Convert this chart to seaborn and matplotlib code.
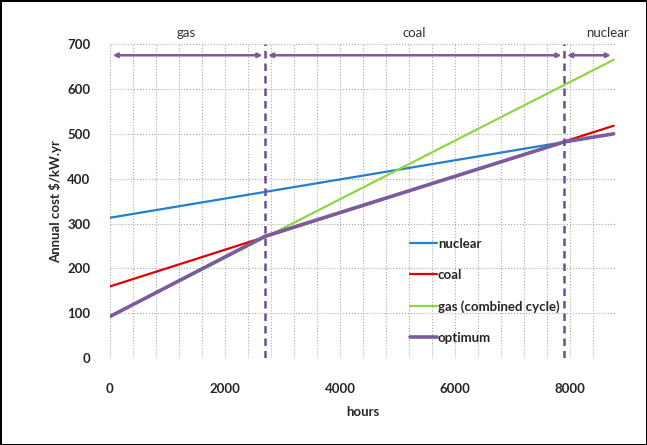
import numpy as np
import pandas as pd
import matplotlib.pyplot as plt
import seaborn as sns
from matplotlib.ticker import MultipleLocator

# cost lines (end points, $/kW.yr)
hours = [0, 8760]
nuclear = [313, 500]
coal = [160, 518]
gas = [93, 665]

# optimum envelope follows the cheapest plant
opt_hours = [0, 2700, 7900, 8760]
optimum = [93, 272, 482, 500]

# switching points and region labels
switch = [2700, 7900]
regions = ['gas', 'coal', 'nuclear']
region_x = [1320, 5300, 8650]

sns.set_style('white')
plt.rcParams['font.family'] = ['Lato', 'DejaVu Sans']

fig = plt.figure(figsize=(6.47, 4.45), dpi=100)
fig.patch.set_edgecolor('black')
fig.patch.set_linewidth(2)
ax = fig.add_axes([0.170, 0.195, 0.782, 0.706])

sns.lineplot(x=hours, y=nuclear, color='#1f7fd0', lw=1.6, label='nuclear', ax=ax)
sns.lineplot(x=hours, y=coal, color='#e00000', lw=1.6, label='coal', ax=ax)
sns.lineplot(x=hours, y=gas, color='#8fd642', lw=1.6, label='gas (combined cycle)', ax=ax)
sns.lineplot(x=opt_hours, y=optimum, color='#7a5c9c', lw=2.6, label='optimum', ax=ax)

for s in switch:
    ax.axvline(s, color='#6a4f8f', lw=1.8, ls=(0, (3, 2)))

# arrows across each region
edges = [0] + switch + [hours[-1]]
for i, name in enumerate(regions):
    ax.annotate('', xy=(edges[i], 675), xytext=(edges[i + 1], 675),
                arrowprops=dict(arrowstyle='<|-|>', color='#7a5c9c', lw=1.8,
                                mutation_scale=6, shrinkA=2, shrinkB=2))
    ax.text(region_x[i], 712, name, ha='center', va='bottom', fontsize=9.5,
            color='#333333', clip_on=False)

ax.set_xlim(0, 8800)
ax.set_ylim(0, 700)
ax.xaxis.set_major_locator(MultipleLocator(2000))
ax.xaxis.set_minor_locator(MultipleLocator(400))
ax.yaxis.set_major_locator(MultipleLocator(100))
ax.grid(True, which='both', axis='x', color='#aaaaaa', ls=':', lw=0.8)
ax.grid(True, which='major', axis='y', color='#aaaaaa', ls=':', lw=0.8)
for sp in ax.spines.values():
    sp.set_visible(False)
ax.tick_params(axis='both', which='both', length=0, labelsize=9.5, pad=14)
ax.tick_params(axis='x', pad=18)
ax.set_xticks(ax.get_xticks())
ax.set_yticks(ax.get_yticks())
ax.set_xticklabels([f'{int(v)}' for v in ax.get_xticks()], fontweight='bold')
ax.set_yticklabels([f'{int(v)}' for v in ax.get_yticks()], fontweight='bold')
ax.set_xlim(0, 8800)
ax.set_ylim(0, 700)

ax.set_xlabel('hours', fontsize=9.5, fontweight='bold', labelpad=8)
ax.set_ylabel('Annual cost $/kW.yr', fontsize=9.5, fontweight='bold', labelpad=4)

leg = ax.legend(loc='center left', bbox_to_anchor=(0.57, 0.215), frameon=False,
                prop={'size': 9.5, 'weight': 'bold'}, handlelength=2.0,
                handletextpad=0.1, labelspacing=1.45)

fig.savefig('out.png', dpi=100, edgecolor=fig.get_edgecolor())
